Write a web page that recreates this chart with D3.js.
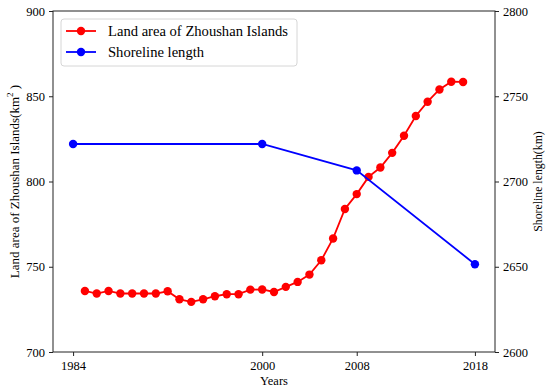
<!DOCTYPE html>
<html>
<head>
<meta charset="utf-8">
<script src="https://cdn.jsdelivr.net/npm/d3@7"></script>
<style>
  body { margin: 0; background: #fff; }
  svg { display: block; font-family: "Liberation Serif", "Times New Roman", serif; }
  .tick text { font-size: 12.5px; fill: #000; }
</style>
</head>
<body>
<div id="chart"></div>
<script>
const WIDTH = 550;
const HEIGHT = 392;
const MARGIN = { top: 11, right: 55, bottom: 40, left: 53 };

// land area (km2), one point per year 1985-2017
const landYears = d3.range(1985, 2018);
const landArea = [
  735.8, 734.3, 735.8, 734.3, 734.3, 734.3, 734.3, 735.6, 730.9, 729.4,
  730.9, 732.7, 733.9, 733.9, 736.6, 736.7, 735.2, 738.2, 741.1, 745.4,
  753.8, 766.6, 783.9, 792.6, 802.7, 808.2, 816.8, 826.8, 838.4, 846.8,
  854.0, 858.5, 858.4,
];

// shoreline length (km)
const shoreYears = [1984, 2000, 2008, 2018];
const shoreLength = [2722, 2722, 2706.5, 2651.5];

const xTicks = [1984, 2000, 2008, 2018];
const leftTicks = [700, 750, 800, 850, 900];
const rightTicks = [2600, 2650, 2700, 2750, 2800];

const RED = "#ff0000";
const BLUE = "#0000ff";

const svg = d3.select("#chart").append("svg").attr("width", WIDTH).attr("height", HEIGHT);

const x = d3.scaleLinear().domain([1982.3, 2019.7]).range([MARGIN.left, WIDTH - MARGIN.right]);
const yL = d3.scaleLinear().domain([700, 900]).range([HEIGHT - MARGIN.bottom, MARGIN.top]);
const yR = d3.scaleLinear().domain([2600, 2800]).range([HEIGHT - MARGIN.bottom, MARGIN.top]);

const landData = landYears.map((yr, i) => ({ year: yr, value: landArea[i] }));
const shoreData = shoreYears.map((yr, i) => ({ year: yr, value: shoreLength[i] }));

// red series
svg.append("path")
  .datum(landData)
  .attr("fill", "none")
  .attr("stroke", RED)
  .attr("stroke-width", 1.8)
  .attr("d", d3.line().x((d) => x(d.year)).y((d) => yL(d.value)));

svg.append("g")
  .selectAll("circle")
  .data(landData)
  .join("circle")
  .attr("cx", (d) => x(d.year))
  .attr("cy", (d) => yL(d.value))
  .attr("r", 4.2)
  .attr("fill", RED);

// blue series (twin axis, drawn on top)
svg.append("path")
  .datum(shoreData)
  .attr("fill", "none")
  .attr("stroke", BLUE)
  .attr("stroke-width", 1.8)
  .attr("d", d3.line().x((d) => x(d.year)).y((d) => yR(d.value)));

svg.append("g")
  .selectAll("circle")
  .data(shoreData)
  .join("circle")
  .attr("cx", (d) => x(d.year))
  .attr("cy", (d) => yR(d.value))
  .attr("r", 4.2)
  .attr("fill", BLUE);

// axes
function styleAxis(g) {
  g.attr("font-family", null).attr("font-size", null);
  g.selectAll(".domain").remove();
  g.selectAll(".tick line").attr("stroke", "#222").attr("stroke-width", 1);
}

const fmt = d3.format("d");

svg.append("g")
  .attr("transform", `translate(0,${HEIGHT - MARGIN.bottom})`)
  .call(d3.axisBottom(x).tickValues(xTicks).tickFormat(fmt).tickSize(4).tickPadding(5))
  .call(styleAxis);

svg.append("g")
  .attr("transform", `translate(${MARGIN.left},0)`)
  .call(d3.axisLeft(yL).tickValues(leftTicks).tickFormat(fmt).tickSize(4).tickPadding(4))
  .call(styleAxis);

svg.append("g")
  .attr("transform", `translate(${WIDTH - MARGIN.right},0)`)
  .call(d3.axisRight(yR).tickValues(rightTicks).tickFormat(fmt).tickSize(4).tickPadding(4))
  .call(styleAxis);

// frame
svg.append("rect")
  .attr("x", MARGIN.left)
  .attr("y", MARGIN.top)
  .attr("width", WIDTH - MARGIN.left - MARGIN.right)
  .attr("height", HEIGHT - MARGIN.top - MARGIN.bottom)
  .attr("fill", "none")
  .attr("stroke", "#222")
  .attr("stroke-width", 1);

// axis labels
svg.append("text")
  .attr("x", (MARGIN.left + WIDTH - MARGIN.right) / 2)
  .attr("y", HEIGHT - 7)
  .attr("text-anchor", "middle")
  .attr("font-size", 12.5)
  .text("Years");

const yLabel = svg.append("text")
  .attr("transform", `translate(19,${(MARGIN.top + HEIGHT - MARGIN.bottom) / 2}) rotate(-90)`)
  .attr("text-anchor", "middle")
  .attr("font-size", 13);
yLabel.append("tspan").text("Land area of Zhoushan Islands(km");
yLabel.append("tspan").attr("dy", -6).attr("font-size", 9).text("2");
yLabel.append("tspan").attr("dy", 6).text(" )");

svg.append("text")
  .attr("transform", `translate(542,${(MARGIN.top + HEIGHT - MARGIN.bottom) / 2}) rotate(-90)`)
  .attr("text-anchor", "middle")
  .attr("font-size", 11.8)
  .text("Shoreline length(km)");

// legend
const legendItems = [
  { label: "Land area of Zhoushan Islands", color: RED },
  { label: "Shoreline length", color: BLUE },
];
const legend = svg.append("g").attr("transform", "translate(61,19)");
legend.append("rect")
  .attr("width", 236)
  .attr("height", 47)
  .attr("rx", 3)
  .attr("fill", "#fff")
  .attr("fill-opacity", 0.8)
  .attr("stroke", "#d6d6d6");
const item = legend.selectAll("g.item")
  .data(legendItems)
  .join("g")
  .attr("class", "item")
  .attr("transform", (_, i) => `translate(0,${12 + i * 21})`);
item.append("line")
  .attr("x1", 5).attr("x2", 35)
  .attr("stroke", (d) => d.color)
  .attr("stroke-width", 1.8);
item.append("circle")
  .attr("cx", 20)
  .attr("r", 4.2)
  .attr("fill", (d) => d.color);
item.append("text")
  .attr("x", 47)
  .attr("y", 5)
  .attr("font-size", 14.6)
  .text((d) => d.label);
</script>
</body>
</html>
